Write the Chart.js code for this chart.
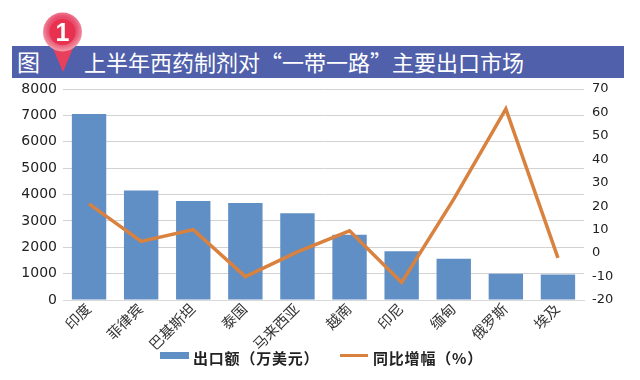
<!DOCTYPE html>
<html>
<head>
<meta charset="UTF-8">
<title>上半年西药制剂对“一带一路”主要出口市场</title>
<script src="https://cdn.jsdelivr.net/npm/chart.js@4/dist/chart.umd.min.js"></script>
<style>
 html,body{margin:0;padding:0;background:#fff;}
 #wrap{position:relative;width:640px;height:380px;overflow:hidden;font-family:"Noto Sans CJK SC",sans-serif;}
 #wrap canvas{position:absolute;left:0;top:0;}
 .banner{position:absolute;left:12px;top:46px;width:612px;height:32px;background:#5060ab;}
 .tu{position:absolute;left:17px;top:46px;height:32px;line-height:31px;font-size:23px;color:#fff;}
 .title{position:absolute;left:84px;top:46px;height:32px;line-height:31px;font-size:22px;color:#fff;white-space:nowrap;}
 .pin{position:absolute;left:38px;top:8px;}
 .swatch{position:absolute;}
 .legend_text{position:absolute;top:347px;height:22px;line-height:22px;font-size:15px;font-weight:bold;color:#222;white-space:nowrap;letter-spacing:0.8px;}
</style>
</head>
<body>
<div id="wrap">
  <div class="banner"></div>
  <div class="tu">图</div>
  <div class="title">上半年西药制剂对“一带一路”主要出口市场</div>
  <canvas id="canvas" width="640" height="380"></canvas>
  <svg class="pin" width="50" height="66" viewBox="0 0 50 66">
    <defs>
      <radialGradient id="ball" cx="50%" cy="45%" r="55%">
        <stop offset="0%" stop-color="#f0304f"/>
        <stop offset="65%" stop-color="#e85070"/>
        <stop offset="100%" stop-color="#f2a0ac"/>
      </radialGradient>
    </defs>
    <path d="M14 38 L36 38 L25 64 Z" fill="#e8405c"/>
    <circle cx="24.500" cy="24" r="19.500" fill="url(#ball)"/>
    <circle cx="24.500" cy="24" r="13" fill="#e8304f"/>
    <text x="24.500" y="33" text-anchor="middle" font-family="Liberation Sans" font-weight="bold" font-size="25" fill="#fff">1</text>
  </svg>
  <!-- legend is html, the chart's own one pushes the x labels into its clip box -->
  <div class="swatch" style="left:160px;top:352px;width:29px;height:7px;background:#608fc5"></div>
  <div class="legend_text" id="legend_bar" style="left:193px"></div>
  <div class="swatch" style="left:340px;top:354px;width:28px;height:3px;background:#d9813f"></div>
  <div class="legend_text" id="legend_line" style="left:373px"></div>
</div>

<script>
var categories = ["印度","菲律宾","巴基斯坦","泰国","马来西亚","越南","印尼","缅甸","俄罗斯","埃及"];
var exportValues = [7050,4150,3750,3680,3290,2470,1850,1560,1000,970];
var growthValues = [21,5,10,-10,0.5,9.5,-12.5,23,61.5,-2];
var barName = "出口额（万美元）";
var lineName = "同比增幅（%）";
var leftTicks = {min:0,max:8000,step:1000};
var rightTicks = {min:-20,max:70,step:10};

document.getElementById("legend_bar").textContent = barName;
document.getElementById("legend_line").textContent = lineName;

var ctx = document.getElementById("canvas").getContext("2d");
new Chart(ctx,{
    type:'bar',
    data:{
        labels:categories,
        datasets:[{
            type:'line',
            label:lineName,
            data:growthValues,
            yAxisID:'y2',
            borderColor:'#d9813f',
            borderWidth:3.5,
            pointRadius:0,
            tension:0,
            order:1
        },{
            label:barName,
            data:exportValues,
            yAxisID:'y',
            backgroundColor:'#608fc5',
            barPercentage:0.66,
            categoryPercentage:1,
            order:2
        }]
    },
    options:{
        responsive:false,
        animation:false,
        layout:{padding:{top:89,left:0,right:0,bottom:0}},
        plugins:{
            legend:{display:false},
            tooltip:{enabled:false}
        },
        scales:{
            x:{
                afterFit:function(s){s.height=80;},
                grid:{display:false,drawTicks:false},
                border:{color:'#d9d9d9'},
                ticks:{color:'#333',minRotation:45,maxRotation:45,padding:0,labelOffset:-1,
                    font:{family:"Noto Sans CJK SC",size:14.5}}
            },
            y:{
                position:'left',
                min:leftTicks.min,max:leftTicks.max,
                afterFit:function(s){s.width=63;},
                grid:{color:'#d2d2d2',drawTicks:false},
                border:{display:false},
                ticks:{stepSize:leftTicks.step,color:'#222',padding:6,
                    font:{family:"DejaVu Sans",size:14},
                    format:{useGrouping:false}}
            },
            y2:{
                position:'right',
                min:rightTicks.min,max:rightTicks.max,
                afterFit:function(s){s.width=56;},
                grid:{display:false,drawTicks:false},
                border:{display:false},
                ticks:{stepSize:rightTicks.step,autoSkip:false,color:'#222',padding:8,
                    font:{family:"DejaVu Sans",size:13}}
            }
        }
    }
});
</script>
</body>
</html>
